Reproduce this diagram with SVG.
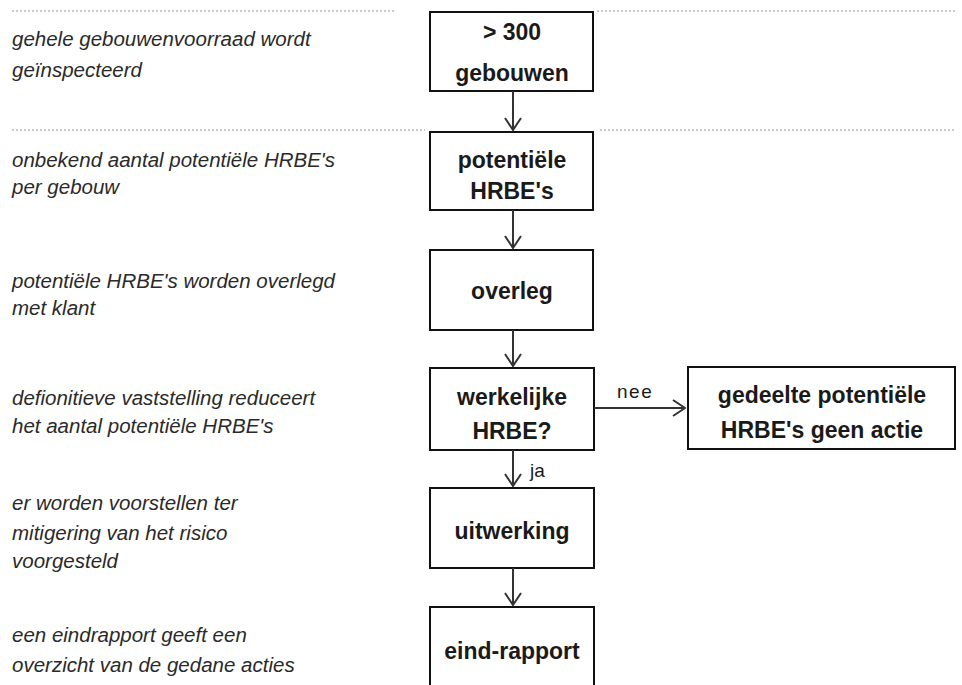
<svg xmlns="http://www.w3.org/2000/svg" width="962" height="685" viewBox="0 0 962 685">
<style>
.box{fill:#fff;stroke:#111;stroke-width:2}
.bt{font-family:"Liberation Sans",Arial,sans-serif;font-weight:bold;font-size:23px;fill:#1a1a1a;text-anchor:middle}
.lt{font-family:"Liberation Sans",Arial,sans-serif;font-style:italic;font-size:20.5px;fill:#2a2a2a}
.lbl{font-family:"Liberation Sans",Arial,sans-serif;font-size:19px;fill:#1a1a1a}
.con{stroke:#333;stroke-width:2;fill:none}
.scan{stroke:#bbb;stroke-width:1.5;stroke-dasharray:2 2;fill:none}
</style>
<defs>
<marker id="ah" viewBox="0 0 14 18" refX="13" refY="9" markerWidth="14" markerHeight="18" markerUnits="userSpaceOnUse" orient="auto">
<polyline points="1,1 13,9 1,17" fill="none" stroke="#333" stroke-width="2"/>
</marker>
</defs>
<rect width="962" height="685" fill="#fff"/>
<g id="scanlines">
<path class="scan" d="M12 11H395M597 11H955M12 130H425M600 130H955"/>
</g>
<g id="notes">
<text class="lt" x="12" y="46">gehele gebouwenvoorraad wordt</text>
<text class="lt" x="12" y="77">geïnspecteerd</text>
<text class="lt" x="12" y="167">onbekend aantal potentiële HRBE's</text>
<text class="lt" x="12" y="194">per gebouw</text>
<text class="lt" x="12" y="288">potentiële HRBE's worden overlegd</text>
<text class="lt" x="12" y="315">met klant</text>
<text class="lt" x="12" y="405">defionitieve vaststelling reduceert</text>
<text class="lt" x="12" y="433">het aantal potentiële HRBE's</text>
<text class="lt" x="12" y="510">er worden voorstellen ter</text>
<text class="lt" x="12" y="540">mitigering van het risico</text>
<text class="lt" x="12" y="568">voorgesteld</text>
<text class="lt" x="12" y="642">een eindrapport geeft een</text>
<text class="lt" x="12" y="672">overzicht van de gedane acties</text>
</g>
<g id="n1"><rect class="box" x="430" y="12" width="163" height="79"/><text class="bt" x="512" y="40">&gt; 300</text><text class="bt" x="512" y="81">gebouwen</text></g>
<g id="n2"><rect class="box" x="430" y="132" width="163" height="78"/><text class="bt" x="512" y="168">potentiële</text><text class="bt" x="512" y="199">HRBE's</text></g>
<g id="n3"><rect class="box" x="430" y="250" width="163" height="80"/><text class="bt" x="512" y="299">overleg</text></g>
<g id="n4"><rect class="box" x="430" y="368" width="164" height="82"/><text class="bt" x="512" y="405">werkelijke</text><text class="bt" x="512" y="439">HRBE?</text></g>
<g id="n5"><rect class="box" x="430" y="488" width="164" height="80"/><text class="bt" x="512" y="539">uitwerking</text></g>
<g id="n6"><rect class="box" x="430" y="607" width="164" height="90"/><text class="bt" x="512" y="659">eind-rapport</text></g>
<g id="n7"><rect class="box" x="688" y="367" width="267" height="82"/><text class="bt" x="822" y="403">gedeelte potentiële</text><text class="bt" x="822" y="438">HRBE's geen actie</text></g>
<g id="connectors">
<path class="con" d="M513 91V130" marker-end="url(#ah)"/>
<path class="con" d="M513 210V248" marker-end="url(#ah)"/>
<path class="con" d="M513 330V366" marker-end="url(#ah)"/>
<path class="con" d="M513 450V486" marker-end="url(#ah)"/>
<path class="con" d="M513 568V605" marker-end="url(#ah)"/>
<path class="con" d="M594 408H685" marker-end="url(#ah)"/>
<text class="lbl" x="617" y="398" letter-spacing="1.5">nee</text>
<text class="lbl" x="530" y="477">ja</text>
</g>
</svg>
